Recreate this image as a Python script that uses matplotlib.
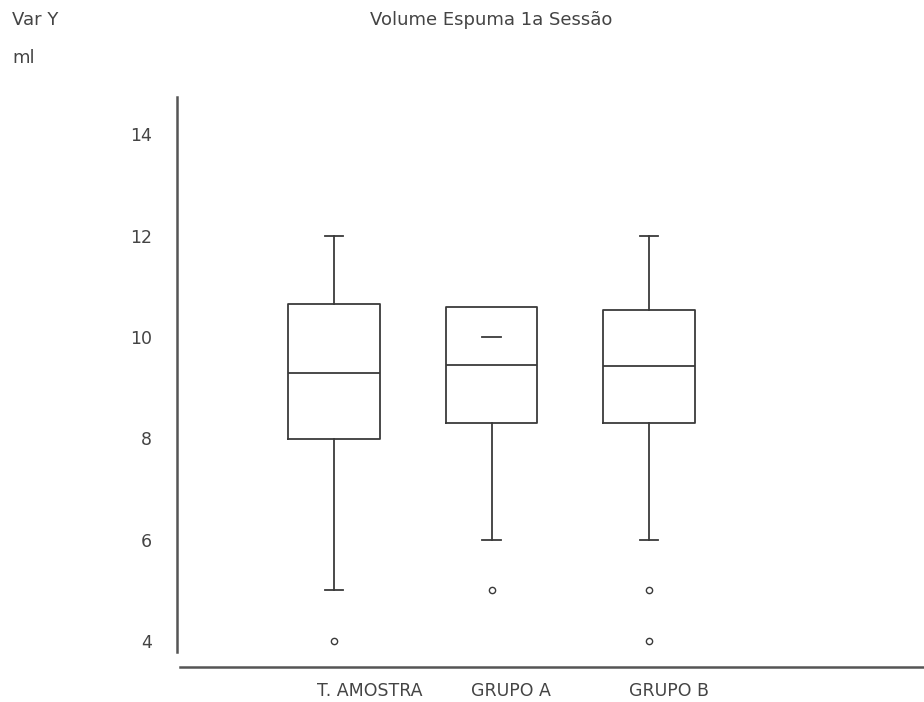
import matplotlib
matplotlib.use("Agg")
import matplotlib.pyplot as plt

# valores (Volume de espuma, ml)
grupos = ["T. AMOSTRA", "GRUPO A", "GRUPO B"]
q1 = [7.99, 8.31, 8.31]
mediana = [9.30, 9.45, 9.43]
q3 = [10.65, 10.60, 10.53]
bigode_inf = [5, 6, 6]
bigode_sup = [12, 10, 12]
outliers = [[4], [5], [5, 4]]
yticks = [4, 6, 8, 10, 12, 14]

cor = "#3a3a3a"
cor_txt = "#444444"
plt.rcParams["font.family"] = ["DejaVu Sans"]

fig = plt.figure(figsize=(9.24, 7.02), dpi=100)
ax = fig.add_axes([177 / 924, 1 - 666.7 / 702, 747 / 924, 569.7 / 702])

stats = []
for i, g in enumerate(grupos):
    stats.append({"label": g, "q1": q1[i], "med": mediana[i], "q3": q3[i],
                  "whislo": bigode_inf[i], "whishi": bigode_sup[i],
                  "fliers": outliers[i]})

bp = ax.bxp(stats, positions=[1, 2, 3], widths=0.578, capwidths=0.115,
            showfliers=True, patch_artist=False,
            boxprops=dict(color=cor, linewidth=1.3),
            medianprops=dict(color=cor, linewidth=1.3),
            whiskerprops=dict(color=cor, linewidth=1.3),
            capprops=dict(color=cor, linewidth=1.3),
            flierprops=dict(marker="o", markersize=4.5, markerfacecolor="white",
                            markeredgecolor=cor, markeredgewidth=1.0))
# GRUPO A: o bigode superior cai dentro da caixa, só o traço aparece
bp["whiskers"][3].set_visible(False)

ax.set_xlim(0.00317, 4.746)
ax.set_ylim(3.493, 14.74)
for s in ax.spines.values():
    s.set_visible(False)

# eixos desenhados à parte (não se encontram)
ax.plot([0, 0], [0.026, 1], color="#555555", lw=1.8, transform=ax.transAxes, clip_on=False)
ax.plot([0.004, 1], [0, 0], color="#555555", lw=1.8, transform=ax.transAxes, clip_on=False)

ax.set_yticks(yticks)
ax.set_yticklabels([str(v) for v in yticks])
ax.set_xticks([1.229, 2.123, 3.127])
ax.set_xticklabels(grupos)
ax.tick_params(axis="y", length=0, pad=18, labelsize=12.5, labelcolor=cor_txt)
ax.tick_params(axis="x", length=0, pad=11, labelsize=12.5, labelcolor=cor_txt)

fig.text(491 / 924, 1 - 20 / 702, "Volume Espuma 1a Sessão", ha="center", va="center",
         fontsize=13, color=cor_txt)
fig.text(12 / 924, 1 - 20 / 702, "Var Y", ha="left", va="center", fontsize=13, color=cor_txt)
fig.text(12 / 924, 1 - 58 / 702, "ml", ha="left", va="center", fontsize=13, color=cor_txt)

fig.savefig("out.png", dpi=100)
